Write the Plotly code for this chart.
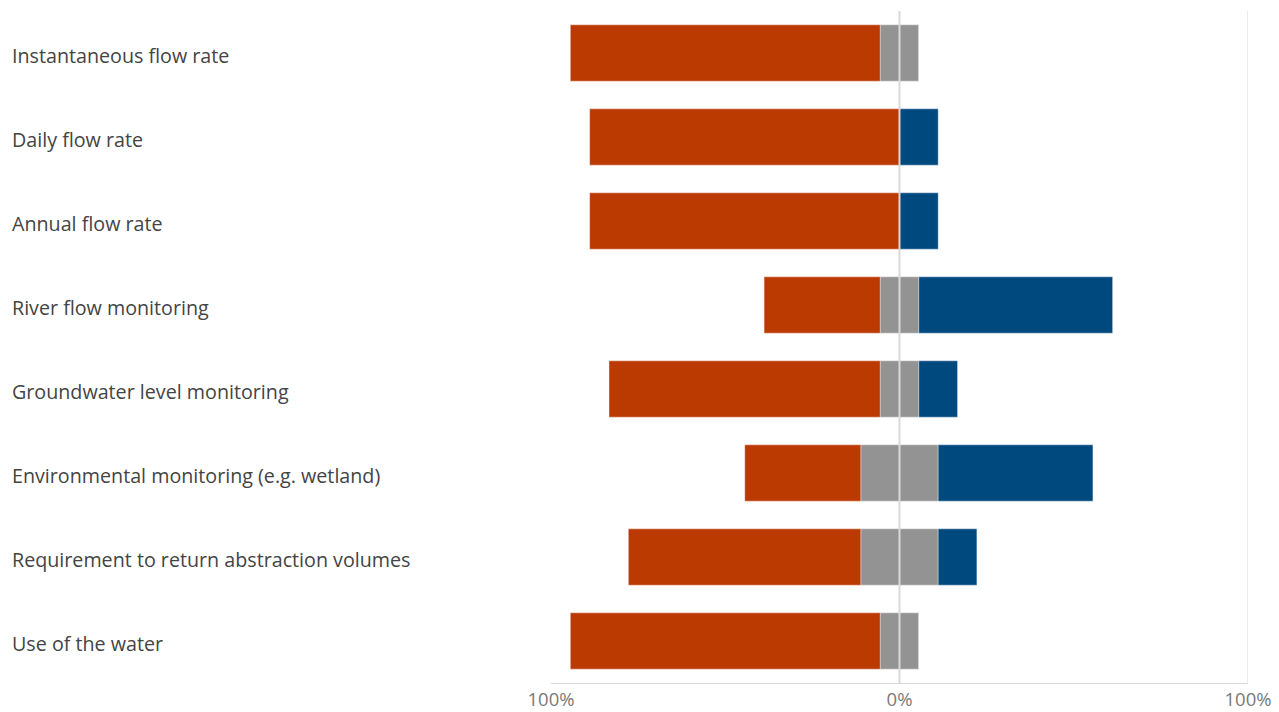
import plotly.graph_objects as go

# Survey items (top to bottom)
categories = [
    "Instantaneous flow rate",
    "Daily flow rate",
    "Annual flow rate",
    "River flow monitoring",
    "Groundwater level monitoring",
    "Environmental monitoring (e.g. wetland)",
    "Requirement to return abstraction volumes",
    "Use of the water",
]

# Share of responses (%) per item
negative = [88.9, 88.9, 88.9, 33.3, 77.8, 33.3, 66.7, 88.9]
neutral = [11.1, 0.0, 0.0, 11.1, 11.1, 22.2, 22.2, 11.1]
positive = [0.0, 11.1, 11.1, 55.6, 11.1, 44.4, 11.1, 0.0]

tick_vals = [-100, 0, 100]
tick_text = ["100%", "0%", "100%"]

RED = "#BA3A02"
GREY = "#939393"
BLUE = "#00497F"
EDGE = dict(color="rgba(255,255,255,0.35)", width=1)
WIDTH = 0.67
FONT = "Open Sans, Noto Sans, sans-serif"

fig = go.Figure()

# Neutral share is split evenly across the zero line
fig.add_trace(go.Bar(y=categories, x=[-v / 2 for v in neutral], orientation="h",
                     marker=dict(color=GREY, line=EDGE), width=WIDTH, name="Neutral"))
fig.add_trace(go.Bar(y=categories, x=[-v for v in negative], orientation="h",
                     marker=dict(color=RED, line=EDGE), width=WIDTH, name="Negative"))
fig.add_trace(go.Bar(y=categories, x=[v / 2 for v in neutral], orientation="h",
                     marker=dict(color=GREY, line=EDGE), width=WIDTH, name="Neutral",
                     showlegend=False))
fig.add_trace(go.Bar(y=categories, x=positive, orientation="h",
                     marker=dict(color=BLUE, line=EDGE), width=WIDTH, name="Positive"))

# Left-aligned category labels
for c in categories:
    fig.add_annotation(x=0, xref="paper", xanchor="left", xshift=-541,
                       y=c, yref="y", yshift=-2, text=c, showarrow=False,
                       font=dict(family=FONT, size=19.7, color="#444444"))

# Centre line drawn over the bars
fig.add_shape(type="line", x0=0, x1=0, y0=0, y1=1, xref="x", yref="paper",
              line=dict(color="#d9d9d9", width=2), layer="above")
fig.add_shape(type="line", x0=100, x1=100, y0=0, y1=1, xref="x", yref="paper",
              line=dict(color="#d9d9d9", width=1), layer="below")

fig.update_layout(
    barmode="relative",
    width=1279, height=712,
    margin=dict(l=551, r=31, t=11, b=29),
    paper_bgcolor="white", plot_bgcolor="white",
    showlegend=False,
    xaxis=dict(
        range=[-100, 100], tickvals=tick_vals, ticktext=tick_text,
        showgrid=True, gridcolor="#d9d9d9", griddash="dash", gridwidth=1,
        zeroline=False, showline=True, linecolor="#d9d9d9", linewidth=1,
        ticks="", ticklabelstandoff=0, automargin=False,
        tickfont=dict(family=FONT, size=18.5, color="#7a7a7a"),
        fixedrange=True,
    ),
    yaxis=dict(
        categoryorder="array", categoryarray=categories, autorange="reversed",
        showticklabels=False, showgrid=False, zeroline=False, showline=False,
        automargin=False, fixedrange=True,
    ),
)

fig.write_html("out.html")
